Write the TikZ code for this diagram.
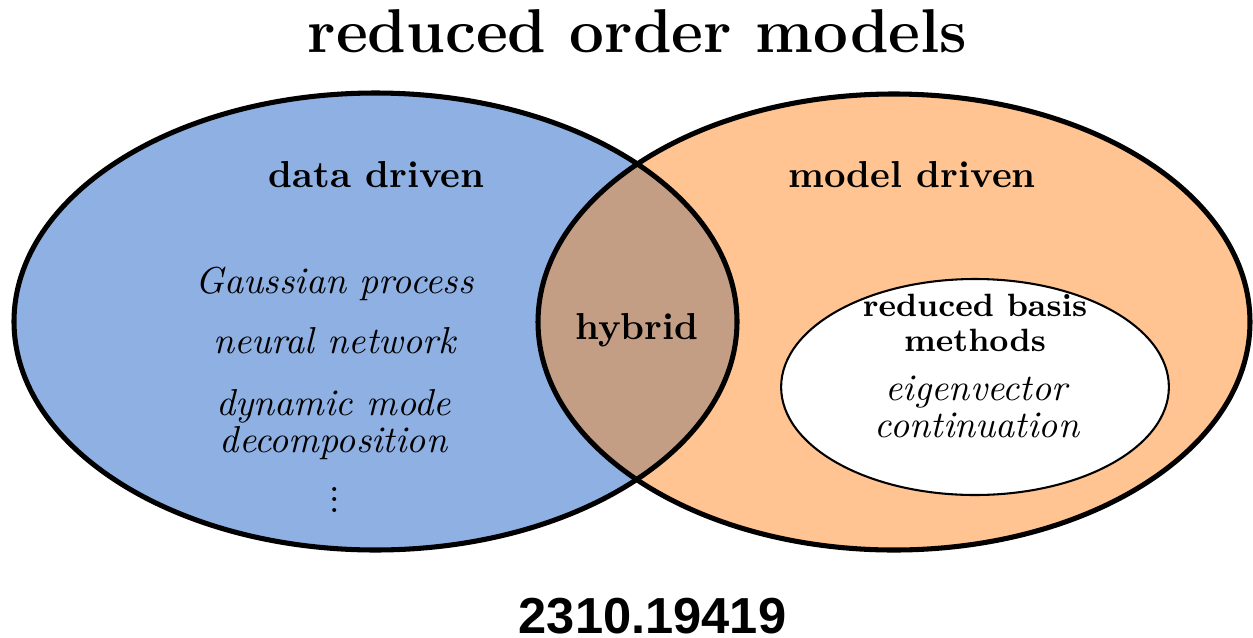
\documentclass[tikz,border=0pt]{standalone}
\usepackage{fontspec}
\newfontfamily\idfont{Liberation Sans}
\definecolor{datablue}{RGB}{143,176,227}
\definecolor{modelorange}{RGB}{255,196,145}
\definecolor{hybridbrown}{RGB}{196,158,132}
\tikzset{
  setline/.style={line width=1.35pt},
  innerline/.style={line width=0.55pt},
  head/.style={anchor=base, font=\bfseries\fontsize{10}{12}\selectfont},
  smallhead/.style={anchor=base, font=\bfseries\fontsize{8.6}{10}\selectfont},
  method/.style={anchor=base, font=\itshape\fontsize{10}{12}\selectfont},
}
\begin{document}
\begin{tikzpicture}[x=0.26667pt, y=-0.26667pt]
\useasboundingbox (0,0) rectangle (1253,637);
% the two sets
\def\leftset{(375.5,321.5) ellipse [x radius=96.40pt, y radius=60.93pt]}
\def\rightset{(894,322) ellipse [x radius=94.93pt, y radius=60.80pt]}
\fill[datablue] \leftset;
\fill[modelorange] \rightset;
\begin{scope}
  \clip \leftset;
  \fill[hybridbrown] \rightset;
\end{scope}
\draw[setline] \leftset;
\draw[setline] \rightset;
% reduced basis subset
\filldraw[fill=white, innerline] (975,387) ellipse [x radius=51.7pt, y radius=28.8pt];

% labels
\node[anchor=base, font=\bfseries\fontsize{16.5}{19}\selectfont] (title) at (637.5,52) {reduced order models};
\node[head] (data) at (376.5,187) {data driven};
\node[head] (model) at (912,187) {model driven};
\node[head] (hybrid) at (637,339) {hybrid};

\node[method] (gp) at (334.5,293) {Gaussian process};
\node[method] (nn) at (334.5,353) {neural network};
\node[method] (dmd1) at (333.5,415) {dynamic mode};
\node[method] (dmd2) at (333.5,452) {decomposition};
\node[inner sep=0pt] (more) at (335,500) {\vbox{\baselineskip=2.9pt\lineskiplimit=-5pt\hbox{.}\hbox{.}\hbox{.}}};

\node[smallhead] (rb1) at (975,316) {reduced basis};
\node[smallhead] (rb2) at (975,351) {methods};
\node[method] (ec1) at (976.5,400) {eigenvector};
\node[method] (ec2) at (977,437) {continuation};

\node[anchor=base, font=\idfont\bfseries\fontsize{13.5}{16}\selectfont] (arxiv) at (652.5,633) {2310.19419};
\end{tikzpicture}
\end{document}
